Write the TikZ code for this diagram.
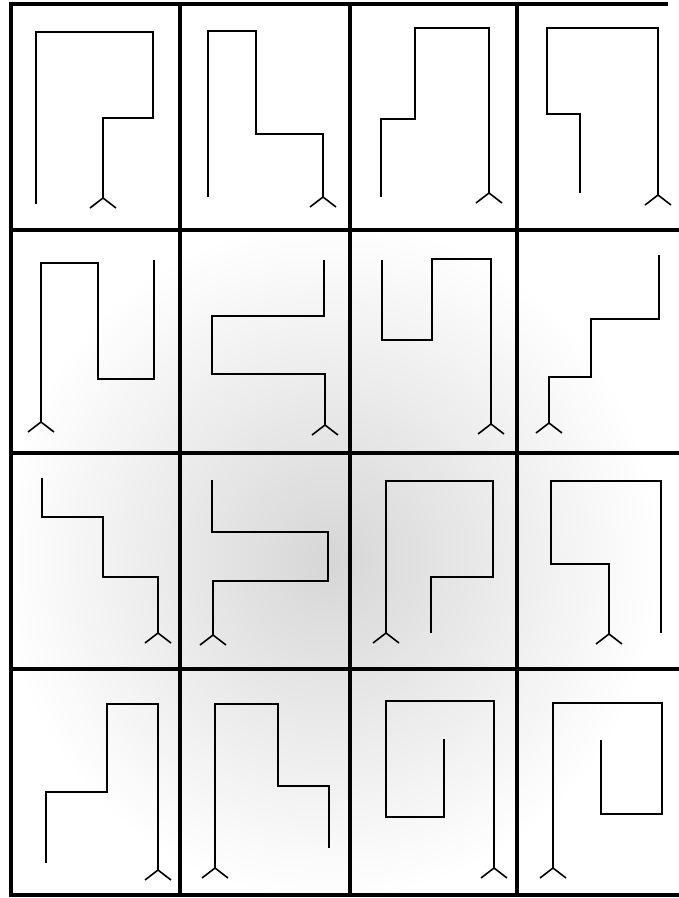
\documentclass[tikz,border=0pt]{standalone}
\usetikzlibrary{positioning}

\tikzset{
  gridline/.style={line width=4pt},
  route/.style={line width=2.2pt, line join=miter},
  fork/.style={line width=1.6pt},
}
\newcommand{\forkat}[2]{\draw[fork] ({#1-13},{#2+10}) -- (#1,#2) -- ({#1+13},{#2+10});}

\begin{document}
\begin{tikzpicture}[x=1pt,y=-1pt]

\useasboundingbox (0,0) rectangle (679,898);

\begin{scope}
\clip (11,232) rectangle (679,895);
\shade[inner color=gray!32, outer color=white] (330,560) ellipse (330 and 340);
\end{scope}

\foreach \x in {11,180,350,517}
  \draw[gridline] (\x,1.5) -- (\x,897);
\draw[gridline] (9,3.5) -- (668,3.5);
\foreach \y in {230,453,669,895}
  \draw[gridline] (9,\y) -- (679,\y);

\draw[route] (36,204) -- (36,32) -- (153,32) -- (153,118) -- (103,118) -- (103,198);
\forkat{103}{198}
\draw[route] (208,197) -- (208,31) -- (256,31) -- (256,134) -- (323,134) -- (323,197);
\forkat{323}{197}
\draw[route] (381,197) -- (381,119) -- (415,119) -- (415,28) -- (489,28) -- (489,193);
\forkat{489}{193}
\draw[route] (580,193) -- (580,114) -- (547,114) -- (547,28) -- (658,28) -- (658,195);
\forkat{658}{195}

\draw[route] (41,422) -- (41,263) -- (98,263) -- (98,379) -- (154,379) -- (154,260);
\forkat{41}{422}
\draw[route] (324,260) -- (324,316) -- (212,316) -- (212,374) -- (325,374) -- (325,425);
\forkat{325}{425}
\draw[route] (382,260) -- (382,340) -- (432,340) -- (432,259) -- (491,259) -- (491,424);
\forkat{491}{424}
\draw[route] (659,255) -- (659,319) -- (591,319) -- (591,377) -- (549,377) -- (549,423);
\forkat{549}{423}

\draw[route] (42,478) -- (42,517) -- (103,517) -- (103,577) -- (158,577) -- (158,633);
\forkat{158}{633}
\draw[route] (212,480) -- (212,532) -- (328,532) -- (328,581) -- (213,581) -- (213,635);
\forkat{213}{635}
\draw[route] (386,633) -- (386,481) -- (493,481) -- (493,577) -- (431,577) -- (431,633);
\forkat{386}{633}
\draw[route] (609,634) -- (609,564) -- (551,564) -- (551,481) -- (661,481) -- (661,633);
\forkat{609}{634}

\draw[route] (46,863) -- (46,792) -- (107,792) -- (107,704) -- (158,704) -- (158,870);
\forkat{158}{870}
\draw[route] (215,868) -- (215,704) -- (278,704) -- (278,786) -- (329,786) -- (329,848);
\forkat{215}{868}
\draw[route] (444,739) -- (444,817) -- (386,817) -- (386,701) -- (494,701) -- (494,868);
\forkat{494}{868}
\draw[route] (553,868) -- (553,703) -- (662,703) -- (662,814) -- (601,814) -- (601,740);
\forkat{553}{868}

\end{tikzpicture}
\end{document}
